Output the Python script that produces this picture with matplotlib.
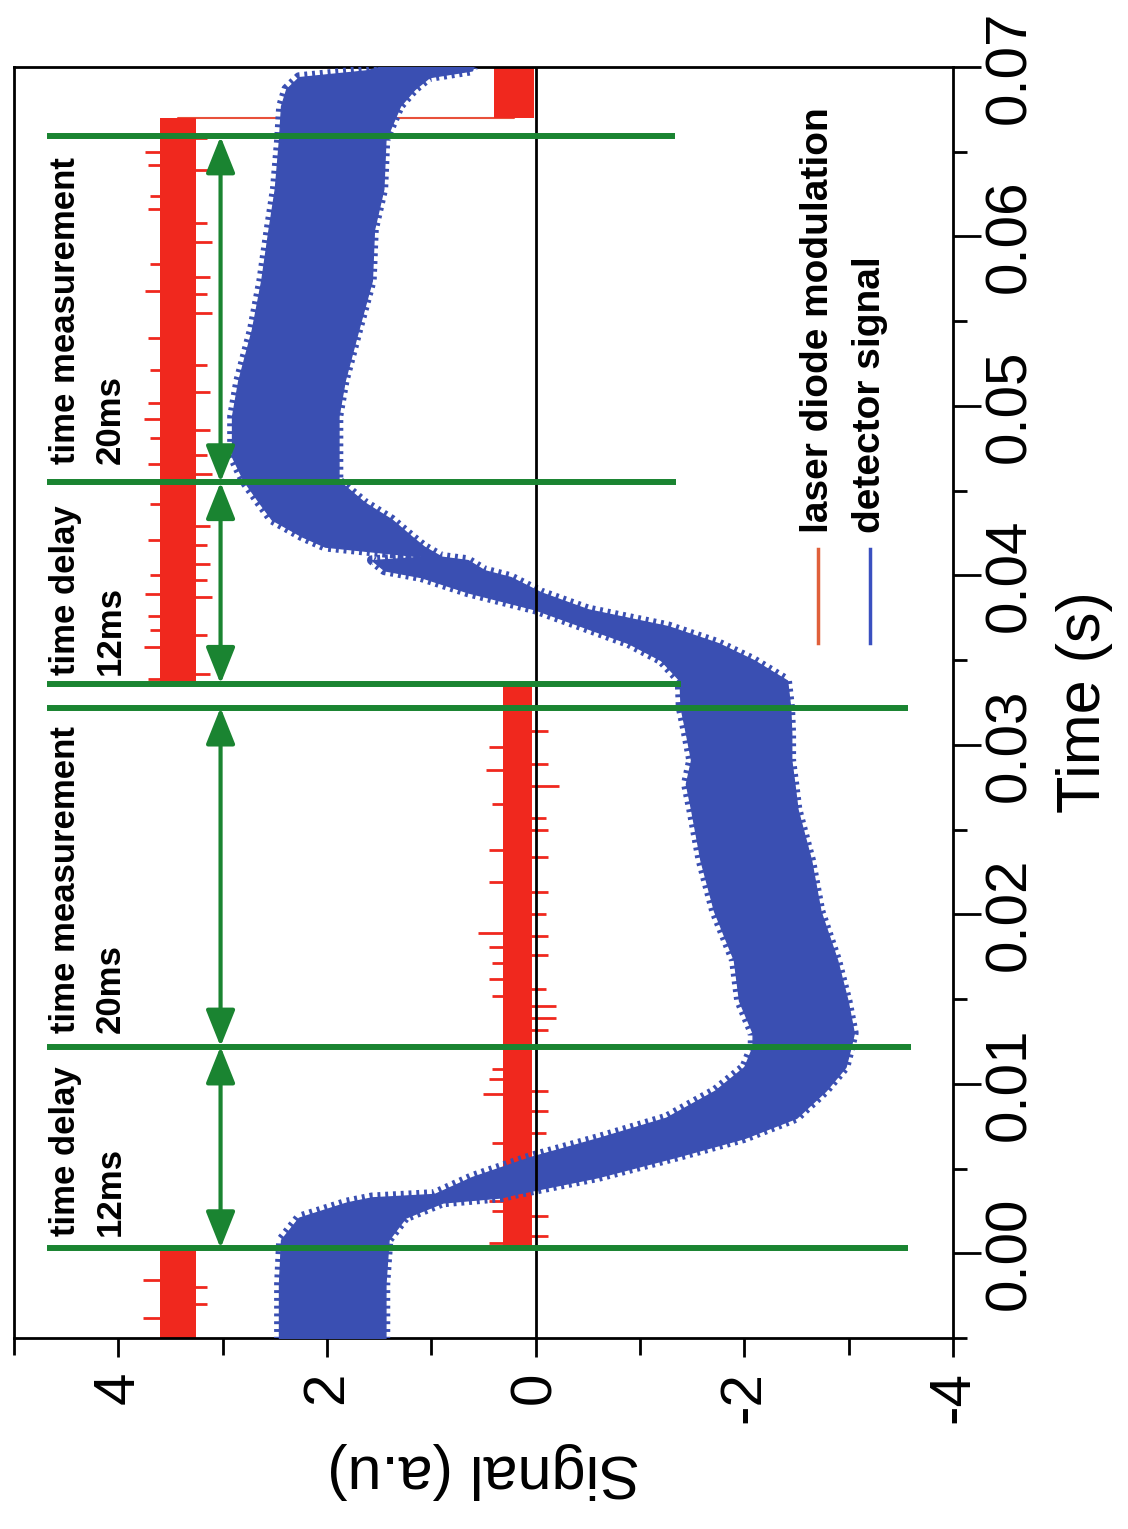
import matplotlib
matplotlib.use('Agg')
import numpy as np
import matplotlib.pyplot as plt
from matplotlib.ticker import MultipleLocator, FormatStrFormatter

plt.rcParams['font.family'] = ['Liberation Sans', 'DejaVu Sans']
plt.rcParams['axes.unicode_minus'] = False

# detector signal: time (s) with upper / lower edge of the noisy band (a.u)
det_t = [-0.0051, -0.0018, 0.0008, 0.0021, 0.0030, 0.0033, 0.0035, 0.0045,
         0.0057, 0.0068, 0.0080, 0.0096, 0.0110, 0.0122, 0.0130, 0.0149,
         0.0173, 0.0202, 0.0232, 0.0262, 0.0277, 0.0291, 0.0307, 0.0322,
         0.0338, 0.0350, 0.0360, 0.0370, 0.0380, 0.0390, 0.0399, 0.0403,
         0.0409, 0.0411, 0.0417, 0.0423, 0.0433, 0.0443, 0.0456, 0.0470,
         0.0494, 0.0515, 0.0545, 0.0574, 0.0604, 0.0628, 0.0657, 0.0677,
         0.0687, 0.0694, 0.0698, 0.0700]
det_hi = [2.46, 2.46, 2.44, 2.27, 1.81, 1.57, 0.97, 0.61,
          0.04, -0.60, -1.25, -1.72, -2.00, -2.08, -2.08, -1.95,
          -1.90, -1.71, -1.58, -1.49, -1.44, -1.49, -1.44, -1.39,
          -1.38, -1.20, -0.89, -0.44, 0.01, 0.65, 1.10, 1.45,
          1.57, 1.07, 2.02, 2.24, 2.53, 2.65, 2.80, 2.91,
          2.91, 2.85, 2.72, 2.63, 2.56, 2.50, 2.46, 2.44,
          2.39, 2.27, 1.62, 1.50]
det_lo = [1.44, 1.44, 1.41, 1.25, 0.89, 0.33, 0.20, -0.60,
          -1.35, -2.00, -2.50, -2.78, -2.97, -3.02, -3.05, -2.99,
          -2.89, -2.73, -2.64, -2.51, -2.48, -2.45, -2.45, -2.44,
          -2.41, -2.09, -1.75, -1.27, -0.50, -0.05, 0.24, 0.49,
          0.65, 0.90, 1.07, 1.19, 1.38, 1.64, 1.89, 1.89,
          1.89, 1.83, 1.70, 1.57, 1.55, 1.46, 1.44, 1.30,
          1.16, 1.02, 0.61, 0.60]

# laser diode modulation: square wave, band edges
laser_t = [-0.0051, 0.0003, 0.0003, 0.0336, 0.0336, 0.0670, 0.0670, 0.0700]
laser_hi = [3.60, 3.60, 0.31, 0.31, 3.60, 3.60, 0.40, 0.40]
laser_lo = [3.26, 3.26, 0.03, 0.03, 3.26, 3.26, 0.02, 0.02]
laser_mid = [3.43, 3.43, 0.17, 0.17, 3.43, 3.43, 0.21, 0.21]

# noise spikes sticking out of the laser band (time, tip value)
spike_t = [-0.0038, -0.0030, -0.0020, -0.0016,
           0.0006, 0.0010, 0.0022, 0.0025, 0.0031, 0.0065, 0.0071, 0.0084,
           0.0094, 0.0096, 0.0103, 0.0109, 0.0132, 0.0139, 0.0146, 0.0152,
           0.0156, 0.0162, 0.0171, 0.0176, 0.0181, 0.0187, 0.0189, 0.0200,
           0.0213, 0.0219, 0.0234, 0.0238, 0.0250, 0.0257, 0.0265, 0.0276,
           0.0285, 0.0289, 0.0299, 0.0308,
           0.0339, 0.0342, 0.0358, 0.0365, 0.0368, 0.0376, 0.0387, 0.0389,
           0.0397, 0.0400, 0.0407, 0.0418, 0.0421, 0.0429, 0.0442, 0.0460,
           0.0466, 0.0471, 0.0481, 0.0486, 0.0492, 0.0502, 0.0508, 0.0521,
           0.0524, 0.0540, 0.0555, 0.0566, 0.0568, 0.0576, 0.0584, 0.0597,
           0.0608, 0.0616, 0.0624, 0.0639, 0.0642, 0.0650, 0.0658]
spike_tip = [3.76, 3.15, 3.15, 3.76,
             0.45, -0.12, -0.12, 0.42, 0.45, 0.42, -0.10, -0.12,
             0.50, -0.12, 0.45, 0.42, -0.12, -0.20, -0.20, 0.42,
             -0.10, 0.45, 0.42, -0.12, 0.45, -0.12, 0.55, -0.10,
             -0.12, 0.45, -0.12, 0.45, -0.12, -0.10, 0.42, -0.22,
             0.48, -0.12, 0.45, -0.12,
             3.72, 3.12, 3.75, 3.15, 3.70, 3.72, 3.10, 3.74,
             3.15, 3.70, 3.12, 3.15, 3.72, 3.12, 3.70, 3.10,
             3.72, 3.15, 3.70, 3.12, 3.75, 3.72, 3.12, 3.70,
             3.15, 3.72, 3.10, 3.15, 3.74, 3.12, 3.70, 3.10,
             3.15, 3.72, 3.70, 3.12, 3.72, 3.74, 3.15]

# green markers (time of vertical lines) and how far they reach on the signal axis
marker_t = [0.0003, 0.0122, 0.0322, 0.0336, 0.0455, 0.0659]
marker_end = [-3.57, -3.60, -3.57, -1.39, -1.35, -1.34]
# double arrows between markers
arrow_from = [0.0003, 0.0122, 0.0336, 0.0455]
arrow_to = [0.0122, 0.0322, 0.0455, 0.0659]
arrow_text = ['time delay\n12ms', 'time measurement\n20ms',
              'time delay\n12ms', 'time measurement\n20ms']
text_t = [0.0010, 0.0130, 0.0341, 0.0466]

RED = '#f0281e'
BLUE = '#3a4fb2'
GREEN = '#1a8431'

fig = plt.figure(figsize=(11.28, 15.29), dpi=100)
ax = fig.add_axes([0.0124, 0.1249, 0.8324, 0.8313])

# chart is drawn turned a quarter: signal runs right-to-left, time upward
spike_base = np.interp(spike_t, laser_t, laser_mid)
ax.hlines(spike_t, spike_base, spike_tip, color=RED, lw=2, zorder=1.5)
ax.plot(laser_mid, laser_t, color='#e8503a', lw=1.5, zorder=1.4)
ax.fill_betweenx(laser_t, laser_lo, laser_hi, color=RED, lw=0, zorder=2)

ax.fill_betweenx(det_t, det_lo, det_hi, color=BLUE, lw=1, edgecolor=BLUE, zorder=3)
# ragged edges of the fast oscillation
ax.plot(det_hi, det_t, color=BLUE, lw=7, ls=(0, (0.3, 0.5)), zorder=3)
ax.plot(det_lo, det_t, color=BLUE, lw=7, ls=(0, (0.3, 0.5)), zorder=3)

ax.axvline(0, color='black', lw=2, zorder=4)

ax.hlines(marker_t, 4.68, marker_end, color=GREEN, lw=4.3, zorder=5)
for t1, t2 in zip(arrow_from, arrow_to):
    ax.annotate('', xy=(3.02, t2), xytext=(3.02, t1),
                arrowprops=dict(arrowstyle='<|-|>,head_length=0.5,head_width=0.2',
                                color=GREEN, lw=3, mutation_scale=45,
                                shrinkA=0, shrinkB=0), zorder=6)
for s, t in zip(arrow_text, text_t):
    ax.text(4.66, t, s, rotation=90, rotation_mode='anchor', ha='left', va='top',
            fontsize=25, fontweight='bold', linespacing=1.45, zorder=7)

# legend, turned like the rest
for xa, col, lab in [(0.856, '#e0603a', 'laser diode modulation'),
                     (0.912, '#3a50c0', 'detector signal')]:
    ax.plot([xa, xa], [0.547, 0.621], color=col, lw=2.5, transform=ax.transAxes, zorder=7)
    ax.text(xa, 0.633, lab, rotation=90, rotation_mode='anchor', ha='left', va='center',
            fontsize=28, fontweight='bold', transform=ax.transAxes, zorder=7)

ax.set_xlim(5, -4)
ax.set_ylim(-0.005, 0.07)
ax.xaxis.set_major_locator(MultipleLocator(2))
ax.xaxis.set_minor_locator(MultipleLocator(1))
ax.yaxis.set_major_locator(MultipleLocator(0.01))
ax.yaxis.set_minor_locator(MultipleLocator(0.005))
ax.yaxis.set_major_formatter(FormatStrFormatter('%.2f'))
ax.xaxis.tick_bottom()
ax.yaxis.tick_right()
ax.tick_params(axis='x', which='major', direction='out', length=14, width=2,
               labelsize=42, labelrotation=90, pad=10)
ax.tick_params(axis='x', which='minor', direction='out', length=12, width=2)
ax.tick_params(axis='y', which='major', direction='out', length=20, width=2,
               labelsize=42, labelrotation=90, pad=2)
ax.tick_params(axis='y', which='minor', direction='out', length=10, width=2)
plt.setp(ax.get_yticklabels(), va='center')
for sp in ax.spines.values():
    sp.set_linewidth(2)

ax.set_xlabel('Signal (a.u)', fontsize=44, rotation=180)
ax.xaxis.label.set(ha='center', va='center')
ax.xaxis.set_label_coords(0.5, -0.104)
ax.yaxis.set_label_position('right')
ax.set_ylabel('Time (s)', fontsize=44, rotation=90)
ax.yaxis.label.set(ha='center', va='center')
ax.yaxis.set_label_coords(1.1406, 0.5)

fig.savefig('out.png', dpi=100)
